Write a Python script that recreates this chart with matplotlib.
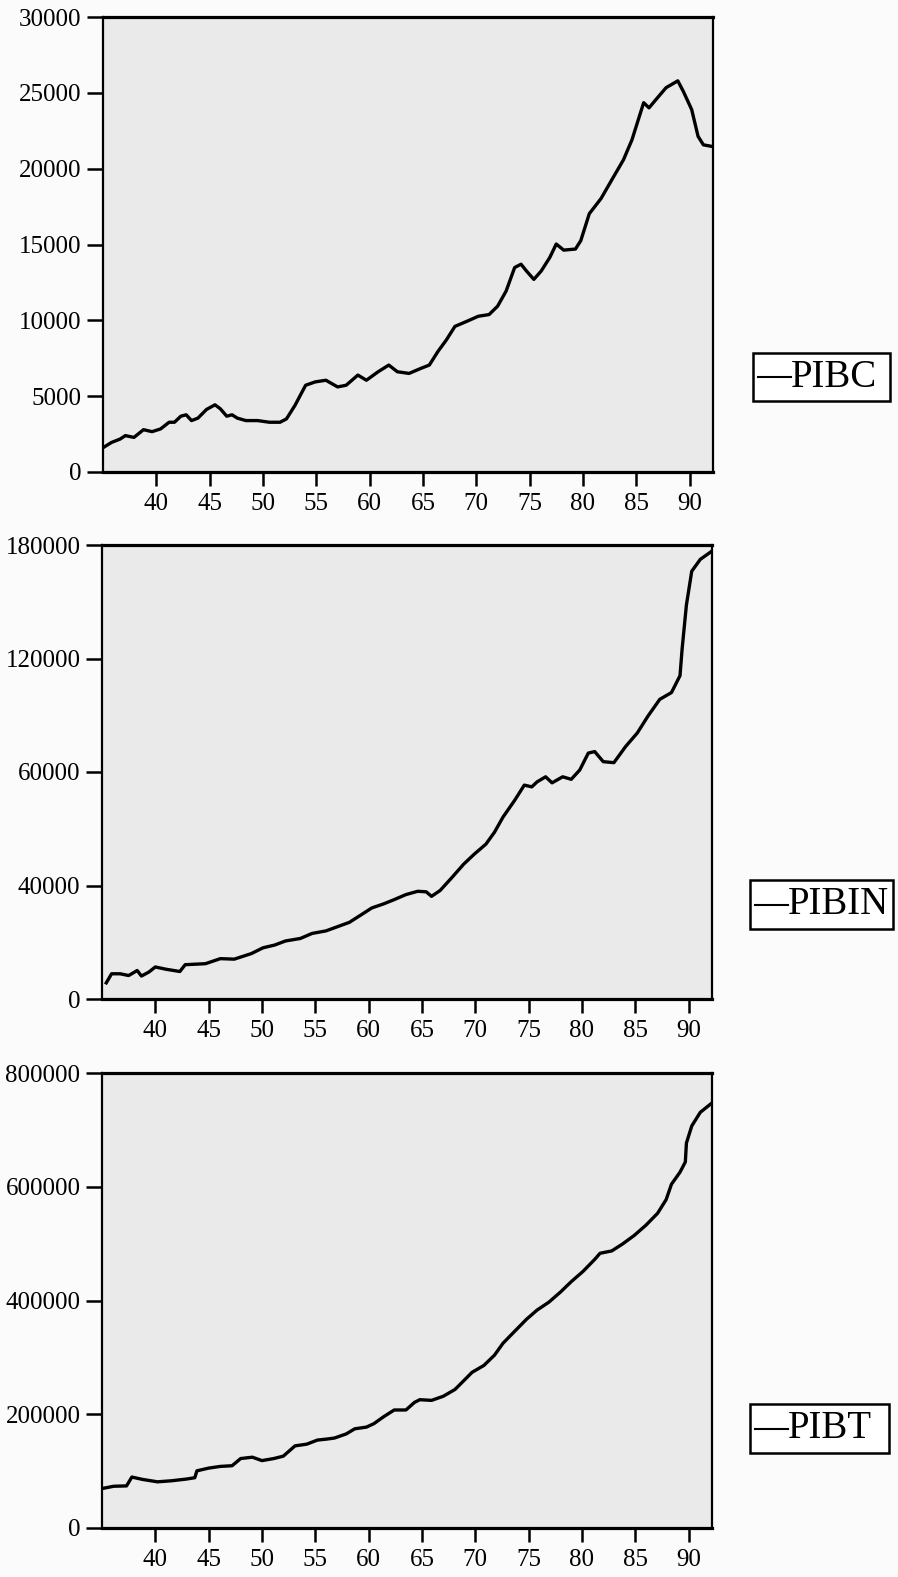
import numpy as np
import matplotlib.pyplot as plt
from matplotlib.patches import Rectangle
from matplotlib.lines import Line2D

# values (years as 19xx -> xx)
pibc_year = [35.0, 35.8, 36.6, 37.1, 37.9, 38.8, 39.6, 40.4, 41.2, 41.7, 42.3, 42.8, 43.3, 43.9,
             44.7, 45.5, 46.0, 46.6, 47.1, 47.6, 48.4, 49.5, 50.6, 51.6, 52.2, 53.0, 54.0, 54.9,
             55.9, 57.0, 57.8, 58.9, 59.7, 60.8, 61.8, 62.6, 63.7, 64.8, 65.6, 66.4, 67.2, 68.0,
             69.1, 70.2, 71.2, 72.0, 72.8, 73.6, 74.2, 74.7, 75.4, 76.1, 76.9, 77.5, 78.2, 79.3,
             79.8, 80.6, 81.7, 82.7, 83.8, 84.6, 85.2, 85.7, 86.2, 87.0, 87.8, 88.9, 89.4, 90.2,
             90.8, 91.3, 92.15]
pibc = [1600, 1950, 2170, 2400, 2280, 2790, 2660, 2840, 3280, 3280, 3680, 3770, 3390, 3550,
        4120, 4430, 4170, 3680, 3770, 3550, 3390, 3390, 3280, 3280, 3500, 4390, 5720, 5940,
        6050, 5610, 5720, 6390, 6050, 6610, 7050, 6610, 6500, 6830, 7050, 7940, 8710, 9600,
        9930, 10270, 10380, 10930, 11930, 13480, 13700, 13260, 12700, 13260, 14150, 15030, 14630, 14700,
        15250, 17030, 18030, 19250, 20580, 21900, 23240, 24350, 24010, 24680, 25340, 25790, 25120, 23900,
        22130, 21570, 21460]

pibin_year = [35.4, 35.9, 36.7, 37.5, 38.3, 38.7, 39.4, 40.0, 41.0, 42.3, 42.8, 44.7, 46.1, 47.4,
              49.0, 50.1, 51.2, 52.2, 53.6, 54.7, 56.0, 57.1, 58.2, 59.2, 60.3, 61.4, 62.4, 63.5,
              64.6, 65.4, 65.9, 66.7, 67.8, 68.9, 69.9, 71.0, 71.8, 72.6, 73.7, 74.6, 75.3, 75.8,
              76.6, 77.2, 78.2, 79.0, 79.8, 80.6, 81.2, 82.0, 83.0, 84.1, 85.2, 86.2, 87.3, 88.4,
              89.2, 89.4, 89.8, 90.3, 91.1, 92.1]
pibin = [6.4, 10.0, 10.0, 9.3, 11.3, 9.1, 10.7, 12.7, 11.8, 10.9, 13.6, 14.0, 16.0, 15.8,
         18.0, 20.3, 21.4, 23.0, 24.0, 26.0, 27.0, 28.7, 30.4, 33.1, 36.1, 37.7, 39.4, 41.4,
         42.7, 42.5, 40.7, 43.0, 48.1, 53.4, 57.4, 61.4, 66.1, 72.1, 78.8, 84.8, 84.1, 86.1,
         88.1, 85.7, 88.1, 87.1, 90.8, 97.5, 98.1, 94.1, 93.7, 100.1, 105.5, 112.2, 118.8, 121.5,
         128.2, 138.9, 156.2, 169.6, 174.3, 177.3]
pibin = [v * 1000 for v in pibin]

pibt_year = [34.95, 36.1, 37.3, 37.8, 38.8, 40.2, 41.5, 42.9, 43.7, 43.9, 45.0, 46.1, 47.2, 48.0,
             49.1, 50.0, 51.1, 52.0, 53.1, 54.2, 55.2, 56.1, 56.8, 57.9, 58.7, 59.8, 60.5, 61.4,
             62.4, 63.5, 64.3, 64.8, 65.9, 67.0, 68.1, 68.9, 69.7, 70.8, 71.8, 72.6, 73.7, 74.8,
             75.8, 76.9, 78.0, 79.0, 80.1, 81.2, 81.7, 82.8, 83.8, 84.9, 86.0, 87.1, 87.9, 88.4,
             89.2, 89.7, 89.8, 90.3, 91.1, 92.1]
pibt = [69.2, 73.4, 74.0, 89.6, 85.4, 81.2, 83.0, 86.0, 88.4, 100.5, 105.3, 108.3, 109.5, 122.1,
        124.5, 118.5, 122.1, 126.3, 144.4, 147.4, 154.6, 156.4, 158.2, 165.4, 174.4, 177.4, 183.5, 195.5,
        207.5, 207.5, 220.8, 225.6, 224.4, 231.6, 243.6, 258.6, 273.7, 285.7, 303.8, 324.8, 345.9, 366.9,
        383.2, 397.0, 415.0, 433.1, 451.1, 472.2, 483.0, 487.2, 499.2, 514.3, 532.3, 553.4, 577.4, 604.5,
        625.6, 643.6, 676.7, 706.8, 730.8, 745.9]
pibt = [v * 1000 for v in pibt]

xticks = [40, 45, 50, 55, 60, 65, 70, 75, 80, 85, 90]

W, H = 898, 1577

# the middle panel is printed with uneven labels on evenly spaced ticks
# box: legend frame in pixels (left, top, right, bottom)
panels = [
    dict(x=pibc_year, y=pibc, name="PIBC", ymax=30000,
         yt=[0, 5000, 10000, 15000, 20000, 25000, 30000],
         ylab=["0", "5000", "10000", "15000", "20000", "25000", "30000"],
         px=(103, 17, 713, 472), box=(753, 353, 890, 401)),
    dict(x=pibin_year, y=pibin, name="PIBIN", ymax=180000,
         yt=[0, 45000, 90000, 135000, 180000],
         ylab=["0", "40000", "60000", "120000", "180000"],
         px=(102, 545, 712, 999), box=(750, 880, 893, 929)),
    dict(x=pibt_year, y=pibt, name="PIBT", ymax=800000,
         yt=[0, 200000, 400000, 600000, 800000],
         ylab=["0", "200000", "400000", "600000", "800000"],
         px=(102, 1073, 712, 1528), box=(750, 1404, 889, 1453)),
]

plt.rcParams['font.family'] = ['Liberation Serif', 'DejaVu Serif']

fig = plt.figure(figsize=(W / 100, H / 100), dpi=100, facecolor='#fbfbfb')

for p in panels:
    l, t, r, b = p["px"]
    ax = fig.add_axes([l / W, 1 - b / H, (r - l) / W, (b - t) / H])
    ax.set_facecolor('#eaeaea')
    ax.plot(p["x"], p["y"], color='black', lw=2.4)
    ax.set_xlim(35, 92.2)
    ax.set_ylim(0, p["ymax"])
    ax.set_xticks(xticks)
    ax.set_xticklabels([str(t) for t in xticks])
    ax.set_yticks(p["yt"])
    ax.set_yticklabels(p["ylab"])
    ax.tick_params(direction='out', width=1.8, labelsize=18)
    ax.tick_params(axis='y', length=11.5, pad=4)
    ax.tick_params(axis='x', length=10, pad=5)
    for side in ['top', 'bottom']:
        ax.spines[side].set_linewidth(2.3)
    for side in ['left', 'right']:
        ax.spines[side].set_linewidth(1.6)

    # legend box drawn by hand so the frame matches the printed one
    bl, bt, br, bb = p["box"]
    fx0, fx1 = bl / W, br / W
    fy0, fy1 = 1 - bb / H, 1 - bt / H
    fig.patches.append(Rectangle((fx0, fy0), fx1 - fx0, fy1 - fy0, transform=fig.transFigure,
                                 facecolor='white', edgecolor='black', lw=1.8))
    yc = (fy0 + fy1) / 2
    fig.lines.append(Line2D([(bl + 5) / W, (bl + 38) / W], [yc, yc], transform=fig.transFigure,
                            color='black', lw=1.5))
    fig.text((bl + 38) / W, yc, p["name"], fontsize=28, va='center', ha='left')

fig.savefig("out.png", dpi=100, facecolor=fig.get_facecolor())
